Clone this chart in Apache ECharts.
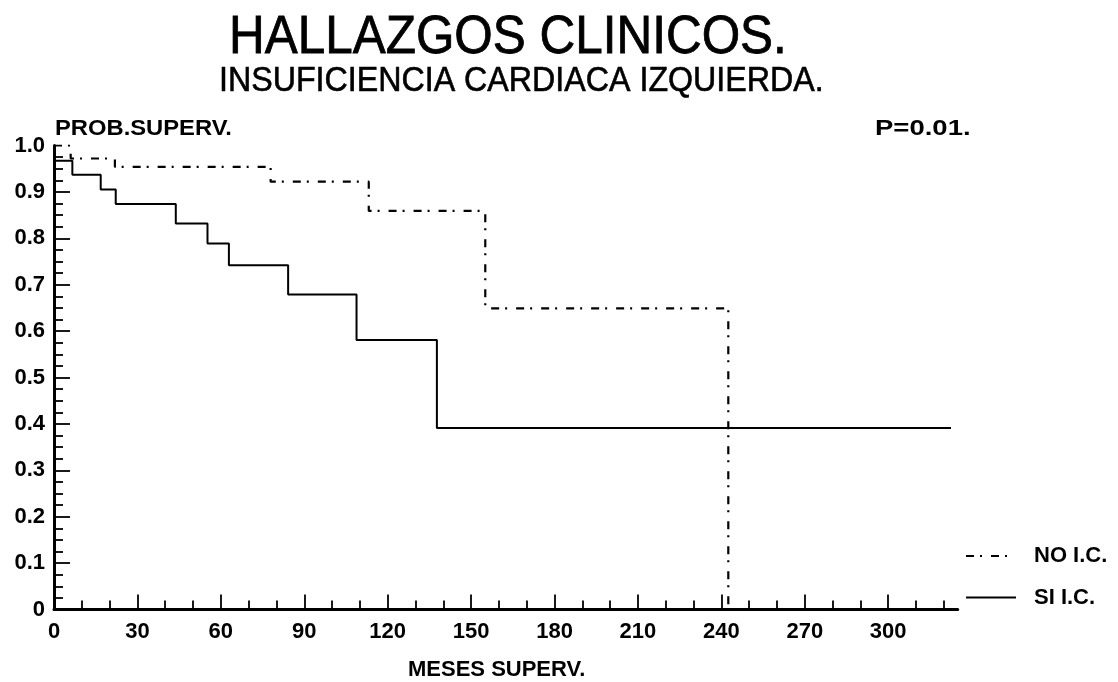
<!DOCTYPE html>
<html>
<head>
<meta charset="utf-8">
<script src="https://cdn.jsdelivr.net/npm/echarts@6/dist/echarts.min.js"></script>
<style>
  html, body { margin: 0; padding: 0; background: #fff; }
  #chart { width: 1118px; height: 682px; }
</style>
</head>
<body>
<div id="chart"></div>
<script>
// Kaplan-Meier survival estimates (months, survival probability); each value holds until the next time
const siMonths = [0, 6.6, 16.8, 22.2, 43.8, 55.2, 62.9, 84.2, 108.8, 137.7, 322.6];
const siSurv   = [0.967, 0.937, 0.905, 0.874, 0.832, 0.789, 0.742, 0.679, 0.581, 0.391, 0.391];
const noMonths = [0, 6.0, 21.9, 77.9, 113.2, 155.1, 242.5];
const noSurv   = [1.0, 0.972, 0.954, 0.922, 0.859, 0.649, 0];

// Axis ticks and labels
const xLabelValues = [0, 30, 60, 90, 120, 150, 180, 210, 240, 270, 300];
const xMajorTicks  = [30, 60, 90, 120, 150, 180, 210, 240, 270, 300];
const xMinorTicks  = [10, 20, 40, 50, 70, 80, 100, 110, 130, 140, 160, 170, 190, 200,
                      220, 230, 250, 260, 280, 290, 310, 320];
const yLabelValues = [0, 0.1, 0.2, 0.3, 0.4, 0.5, 0.6, 0.7, 0.8, 0.9, 1.0];
const yMajorTicks  = [0.1, 0.2, 0.3, 0.4, 0.5, 0.6, 0.7, 0.8, 0.9];
const yMinorTicks  = [];
for (let k = 1; k < 40; k++) {
  if (k % 4 !== 0) yMinorTicks.push(+(k * 0.025).toFixed(3));
}

const seriesNames = ['NO I.C.', 'SI I.C.'];
const xMax = 325;

const pairs = (xs, ys) => xs.map((x, i) => [x, ys[i]]);
const FONT = 'Liberation Sans, Arial, sans-serif';

const chart = echarts.init(document.getElementById('chart'), null, { renderer: 'canvas' });

const baseX = {
  type: 'value', min: 0, max: xMax, gridIndex: 0, position: 'bottom',
  splitLine: { show: false }
};
const baseY = {
  type: 'value', min: 0, max: 1, gridIndex: 0, position: 'left',
  splitLine: { show: false }
};

chart.setOption({
  backgroundColor: '#ffffff',
  animation: false,
  grid: { left: 54, top: 145.5, width: 903.7, height: 464 },
  legend: {
    orient: 'vertical',
    left: 965,
    top: 545,
    padding: 0,
    itemWidth: 50,
    itemHeight: 14,
    itemGap: 19.5,
    data: seriesNames,
    itemStyle: { color: 'transparent', borderWidth: 0 },
    textStyle: { color: '#000', fontFamily: FONT, fontWeight: 'bold', fontSize: 22, padding: [0, 0, 0, 13] }
  },
  xAxis: [
    Object.assign({}, baseX, {
      axisLine: { show: true, lineStyle: { color: '#000', width: 3 } },
      axisTick: { show: true, inside: true, length: 15, customValues: xMajorTicks,
                  lineStyle: { color: '#000', width: 1.8 } },
      axisLabel: { show: true, customValues: xLabelValues, margin: 11, color: '#000',
                   fontFamily: FONT, fontWeight: 'bold', fontSize: 22 }
    }),
    Object.assign({}, baseX, {
      axisLine: { show: false },
      axisTick: { show: true, inside: true, length: 9, customValues: xMinorTicks,
                  lineStyle: { color: '#000', width: 1.8 } },
      axisLabel: { show: false }
    })
  ],
  yAxis: [
    Object.assign({}, baseY, {
      axisLine: { show: true, lineStyle: { color: '#000', width: 3 } },
      axisTick: { show: true, inside: true, length: 16, customValues: yMajorTicks,
                  lineStyle: { color: '#000', width: 1.8 } },
      axisLabel: { show: true, customValues: yLabelValues, margin: 9, color: '#000',
                   fontFamily: FONT, fontWeight: 'bold', fontSize: 22,
                   formatter: v => (v === 0 ? '0' : v.toFixed(1)) }
    }),
    Object.assign({}, baseY, {
      axisLine: { show: false },
      axisTick: { show: true, inside: true, length: 9, customValues: yMinorTicks,
                  lineStyle: { color: '#000', width: 1.8 } },
      axisLabel: { show: false }
    })
  ],
  series: [
    {
      name: seriesNames[0], type: 'line', step: 'end', symbol: 'none',
      xAxisIndex: 0, yAxisIndex: 0,
      lineStyle: { color: '#000', width: 2.2, type: [8, 6, 2, 9] },
      itemStyle: { color: '#000' },
      data: pairs(noMonths, noSurv)
    },
    {
      name: seriesNames[1], type: 'line', step: 'end', symbol: 'none',
      xAxisIndex: 0, yAxisIndex: 0,
      lineStyle: { color: '#000', width: 2, type: 'solid' },
      itemStyle: { color: '#000' },
      data: pairs(siMonths, siSurv)
    }
  ],
  graphic: [
    { type: 'text', x: 229, y: 38, scaleX: 0.933,
      style: { text: 'HALLAZGOS CLINICOS.', fill: '#000', stroke: '#000', lineWidth: 0.8,
               font: 'normal 53px ' + FONT, verticalAlign: 'middle' } },
    { type: 'text', x: 219, y: 81, scaleX: 0.92,
      style: { text: 'INSUFICIENCIA CARDIACA IZQUIERDA.', fill: '#000', stroke: '#000', lineWidth: 0.6,
               font: 'normal 35px ' + FONT, verticalAlign: 'middle' } },
    { type: 'text', x: 55, y: 129, scaleX: 1.08,
      style: { text: 'PROB.SUPERV.', fill: '#000', font: 'bold 22px ' + FONT, verticalAlign: 'middle' } },
    { type: 'text', x: 875, y: 129, scaleX: 1.25,
      style: { text: 'P=0.01.', fill: '#000', font: 'bold 22px ' + FONT, verticalAlign: 'middle' } },
    { type: 'text', x: 408, y: 670,
      style: { text: 'MESES SUPERV.', fill: '#000', font: 'bold 22px ' + FONT, verticalAlign: 'middle' } }
  ]
});
</script>
</body>
</html>
